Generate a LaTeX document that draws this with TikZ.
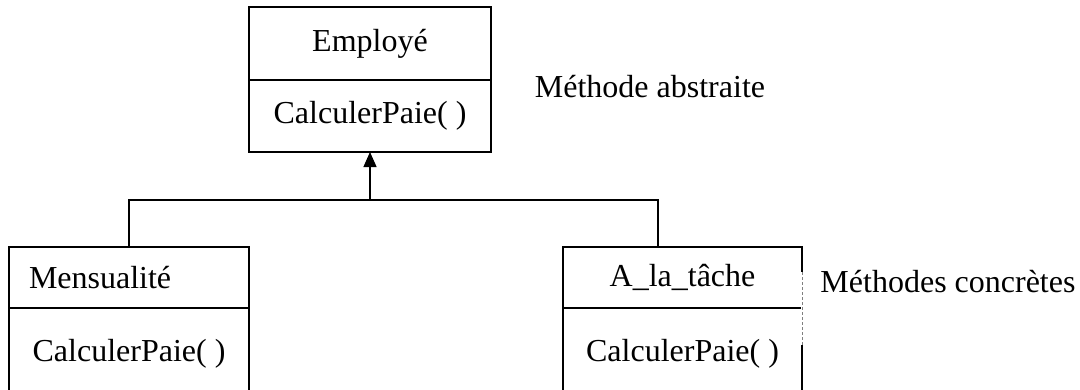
\documentclass[tikz,border=0pt]{standalone}
\usepackage{fontspec}
\setmainfont{Liberation Serif}
\usetikzlibrary{positioning,arrows.meta}
\begin{document}
\begin{tikzpicture}[x=1pt,y=-1pt]
        \tikzstyle{box} = [draw, black, line width=1.3pt, inner sep=0pt, outer sep=0pt, font=\fontsize{32}{38}\selectfont]
        \tikzstyle{blk} = [draw, black, line width=1.3pt]
        \tikzstyle{note} = [font=\fontsize{32}{38}\selectfont]

        \clip (0,0) rectangle (1080,389);

        \node[box, minimum width=242, minimum height=73] (emp) at (370,43.5) {Employé};
        \node[box, minimum width=242, minimum height=72, below=0pt of emp] (empm) {CalculerPaie( )};
        \node[box, minimum width=240, minimum height=61, inner xsep=20pt, text width=200pt, align=left] (mens) at (129,277.5) {Mensualité};
        \node[box, minimum width=240, minimum height=92, below=0pt of mens] (mensm) {CalculerPaie( )};
        \node[box, minimum width=239, minimum height=61] (tache) at (682.5,277.5) {A\_la\_tâche};
        \node[box, minimum width=239, minimum height=92, below=0pt of tache] (tachem) {CalculerPaie( )};

        \node[note] (abs) at (650,87) {Méthode abstraite};
        \node[note] (conc) at (948,282) {Méthodes concrètes};

        \coordinate (junc) at (370,200);
        \path[blk, -{Triangle[length=15pt,width=13pt]}] (junc) to (empm.south);
        \path[blk] (mens.north) |- (junc) -| ([xshift=-24.5pt]tache.north);

        % broken right edge
        \draw[white, line width=3pt] ([yshift=-25pt]tache.north east) -- ([yshift=-37pt]tachem.north east);
        \draw[gray, densely dashed, line width=0.5pt] ([yshift=-25pt]tache.north east) -- ([yshift=-37pt]tachem.north east);
    \end{tikzpicture}
\end{document}
